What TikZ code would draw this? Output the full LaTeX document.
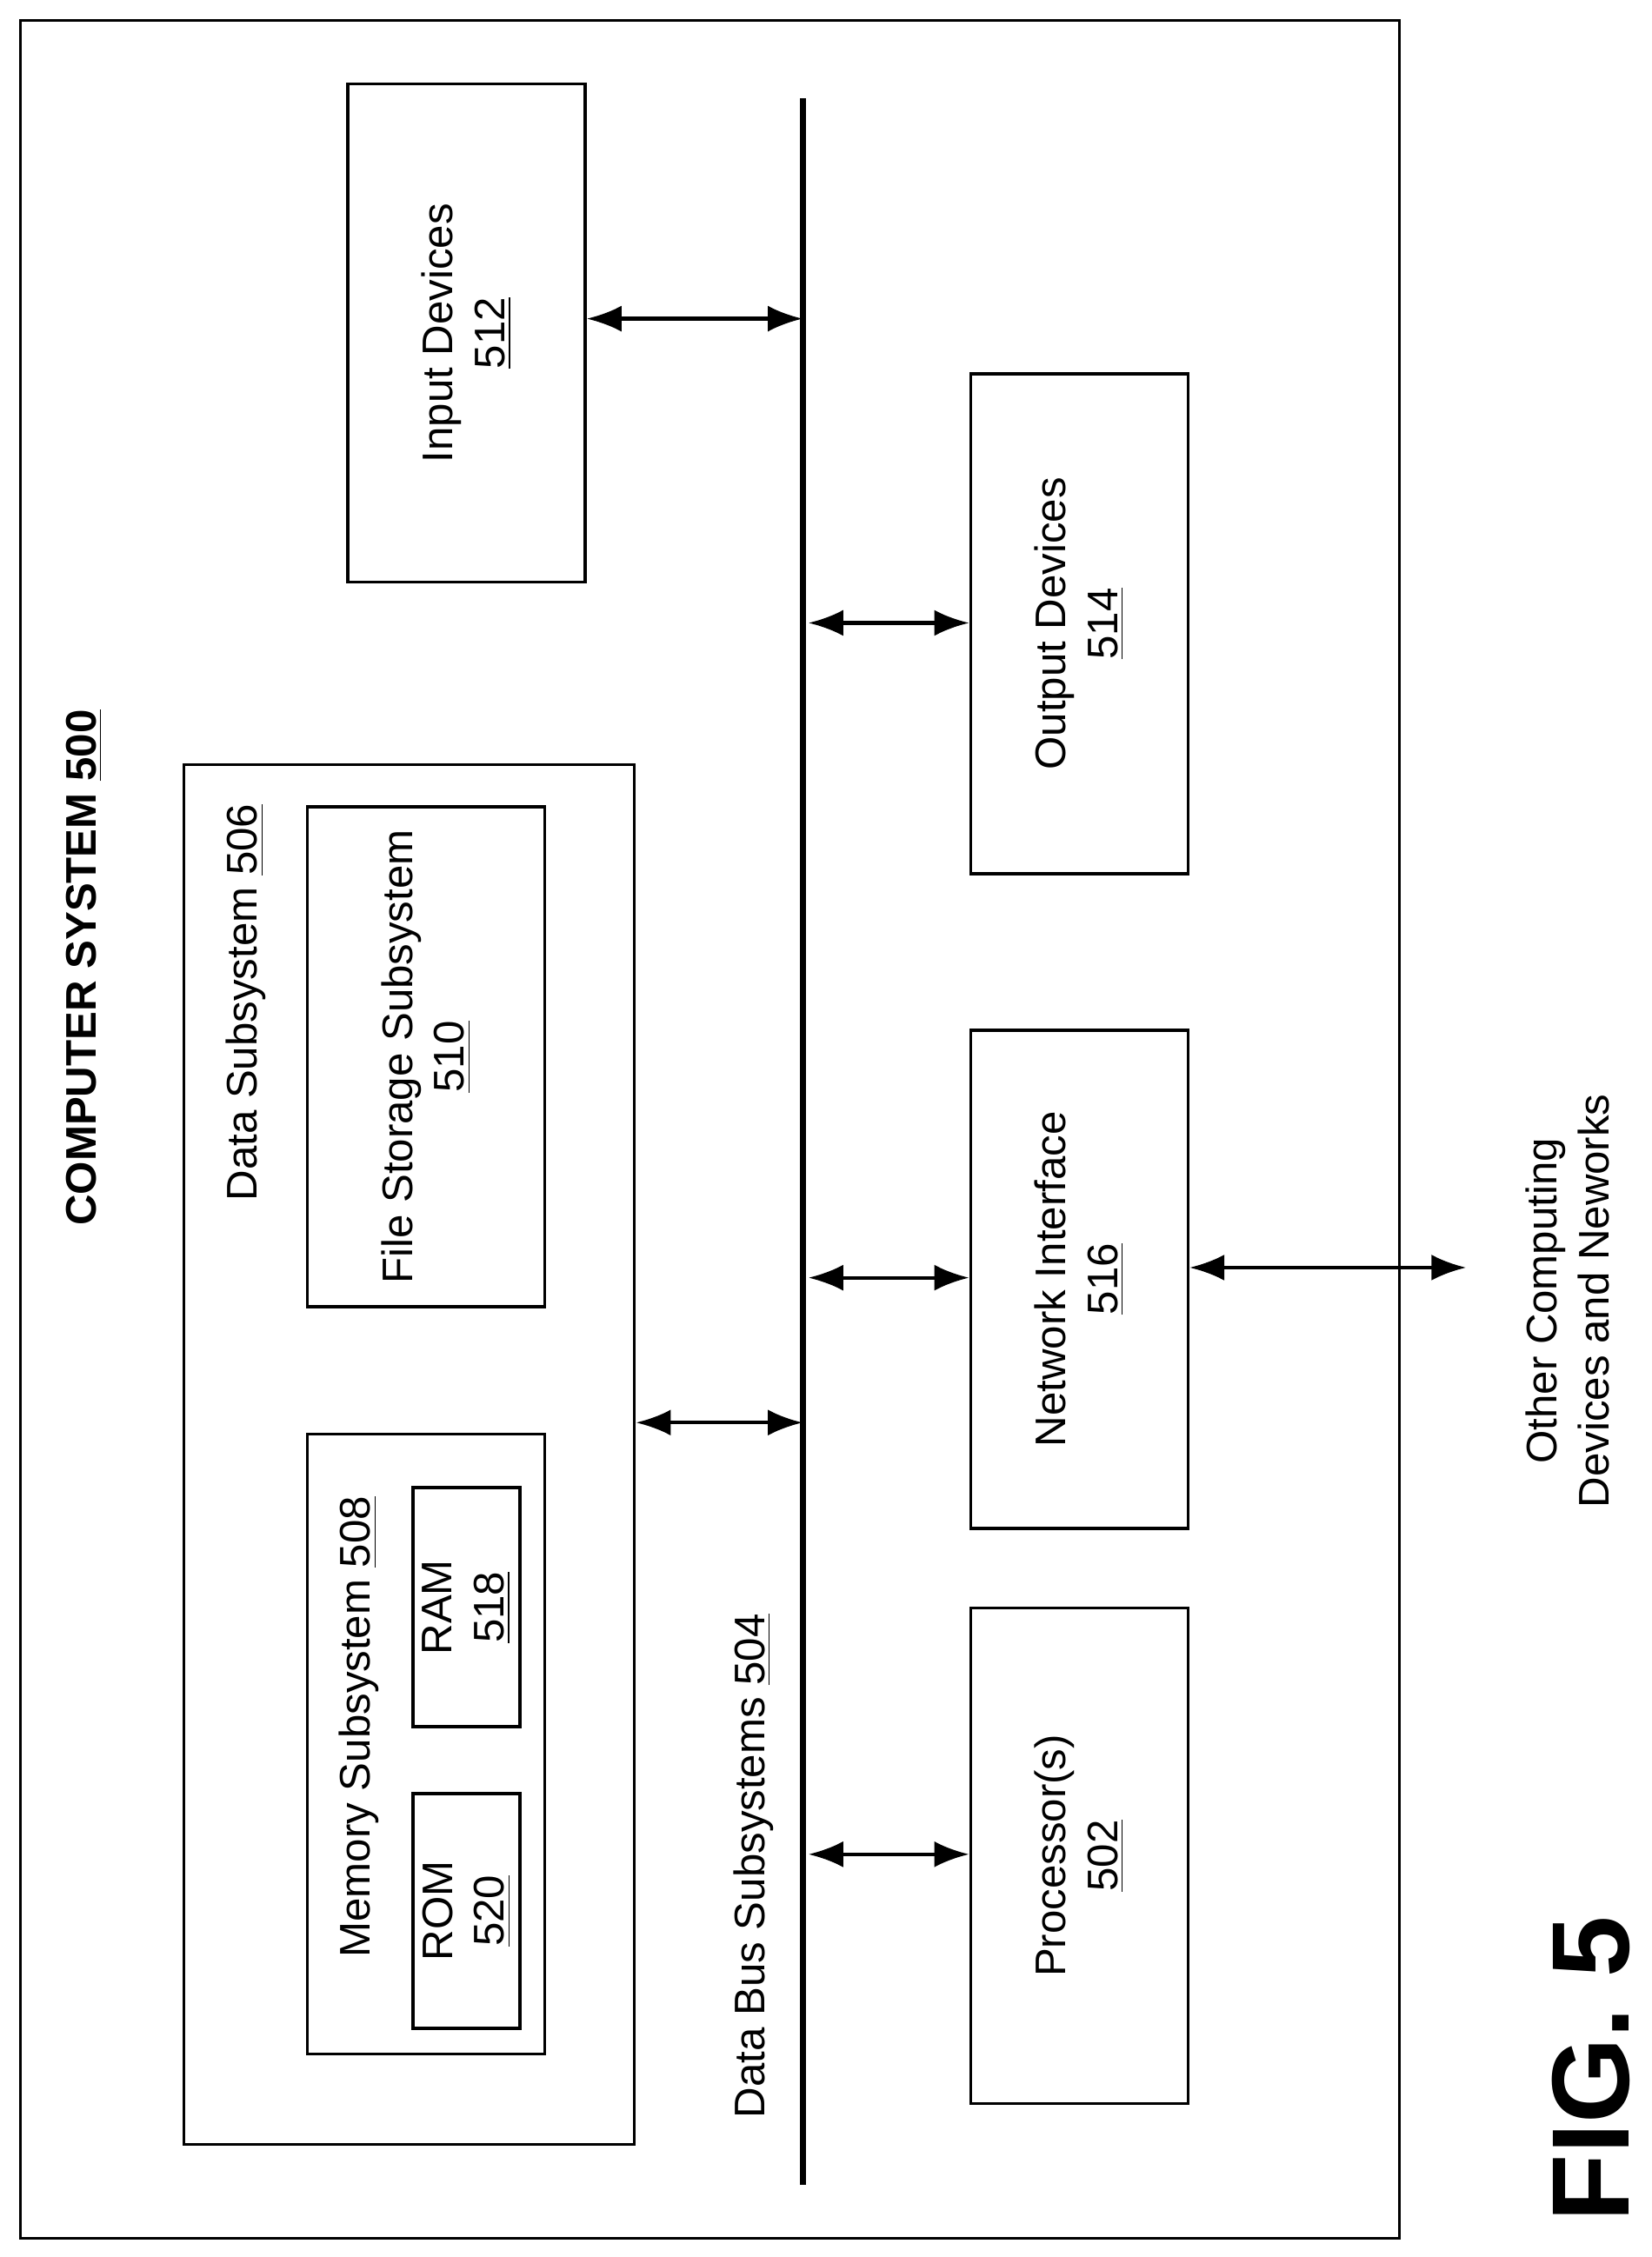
\documentclass[tikz,border=0pt]{standalone}
\usepackage{fontspec}
\setmainfont{Liberation Sans}
\usetikzlibrary{arrows.meta}
\begin{document}
\begin{tikzpicture}[x=0.016667cm,y=-0.016667cm,>={Latex[length=4mm,width=3mm]},
  box/.style={draw,line width=1pt,rotate=90,inner sep=0pt,align=center,font=\fontsize{14}{17}\selectfont},
  lbl/.style={rotate=90,font=\fontsize{14}{17}\selectfont,align=center},
  link/.style={<->,line width=1.2pt}]
  \useasboundingbox (0,0) rectangle (1140,1558);
  \draw[line width=1pt] (14,14) rectangle (966,1545);

  \node[lbl,font=\fontsize{14}{17}\selectfont\bfseries] (title) at (58,668) {COMPUTER SYSTEM \underline{500}};

  % data subsystem
  \node[box,minimum width=15.87cm,minimum height=5.18cm] (data) at (282.5,1004) {};
  \node[lbl] (datalbl) at (170,692) {Data Subsystem \underline{506}};
  \node[box,minimum width=5.75cm,minimum height=2.73cm] (file) at (294,729.5) {File Storage Subsystem\\\underline{510}};
  \node[box,minimum width=7.13cm,minimum height=2.73cm] (mem) at (294,1204) {};
  \node[lbl] (memlbl) at (248,1192) {Memory Subsystem \underline{508}};
  \node[box,minimum width=2.75cm,minimum height=1.23cm] (ram) at (322,1109.5) {RAM\\\underline{518}};
  \node[box,minimum width=2.70cm,minimum height=1.23cm] (rom) at (322,1319) {ROM\\\underline{520}};

  % bus
  \coordinate (bustop) at (554,68);
  \coordinate (busbot) at (554,1508);
  \draw[line width=2pt] (bustop) -- (busbot);
  \node[lbl] (buslbl) at (520,1288) {Data Bus Subsystems \underline{504}};

  % devices
  \node[box,minimum width=5.73cm,minimum height=2.73cm] (in) at (322,230) {Input Devices\\\underline{512}};
  \node[box,minimum width=5.75cm,minimum height=2.5cm] (out) at (745,430.5) {Output Devices\\\underline{514}};
  \node[box,minimum width=5.73cm,minimum height=2.5cm] (net) at (745,883) {Network Interface\\\underline{516}};
  \node[box,minimum width=5.70cm,minimum height=2.5cm] (proc) at (745,1281) {Processor(s)\\\underline{502}};
  \node[lbl] (other) at (1082,898) {Other Computing\\Devices and Neworks};
  \coordinate (otherend) at (1012,875);

  \coordinate (bin) at (554,220);
  \coordinate (bout) at (558,430);
  \coordinate (bnet) at (558,882);
  \coordinate (bproc) at (558,1280);
  \coordinate (bdata) at (554,982);

  \draw[link] (in.south |- bin) -- (bin);
  \draw[link] (bout) -- (out.north |- bout);
  \draw[link] (bnet) -- (net.north |- bnet);
  \draw[link] (bproc) -- (proc.north |- bproc);
  \draw[link] (data.south |- bdata) -- (bdata);
  \draw[link] (net.south |- otherend) -- (otherend);

  \node[rotate=90,font=\fontsize{36}{42}\selectfont\bfseries] (fig) at (1098,1428) {FIG. 5};
\end{tikzpicture}
\end{document}
